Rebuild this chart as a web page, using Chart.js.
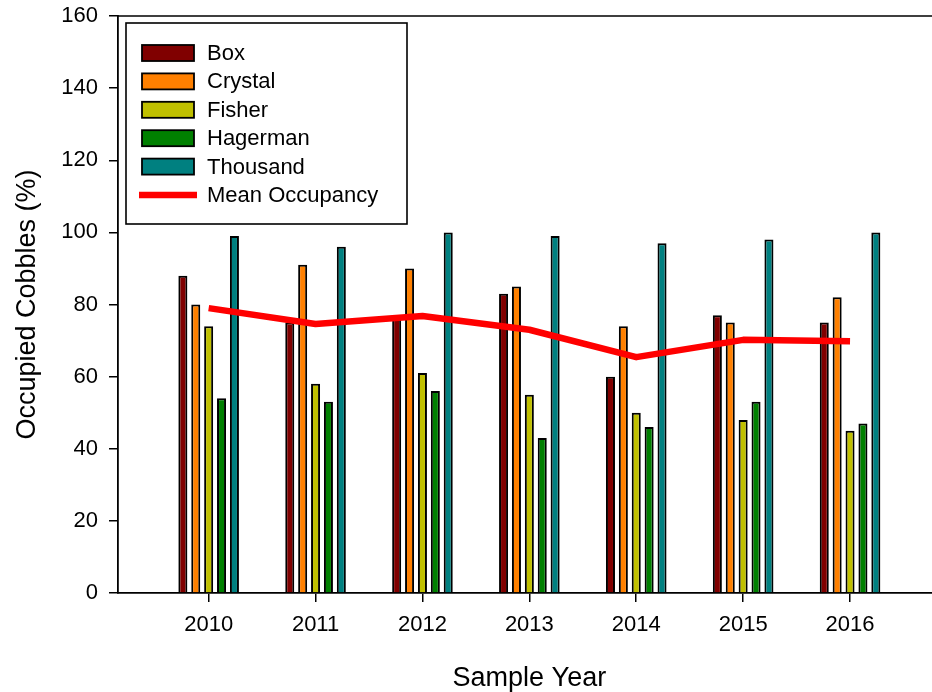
<!DOCTYPE html>
<html>
<head>
<meta charset="utf-8">
<script src="https://cdn.jsdelivr.net/npm/chart.js@4/dist/chart.umd.min.js"></script>
<style>
  html, body { margin: 0; padding: 0; background: #fff; overflow: hidden; }
  #wrap { width: 932px; height: 692px; overflow: hidden; }
  canvas { display: block; }
</style>
</head>
<body>
<div id="wrap"><canvas id="c" width="960" height="692"></canvas></div>
<script>
// Sample years and cobble occupancy (%) per site
const years = [2010, 2011, 2012, 2013, 2014, 2015, 2016];
const box      = [88, 75, 77, 83, 60, 77, 75];
const crystal  = [80, 91, 90, 85, 74, 75, 82];
const fisher   = [74, 58, 61, 55, 50, 48, 45];
const hagerman = [54, 53, 56, 43, 46, 53, 47];
const thousand = [99, 96, 100, 99, 97, 98, 100];
const meanOccupancy = [79, 74.6, 76.8, 73, 65.4, 70.2, 69.8];
const yTicks = [0, 20, 40, 60, 80, 100, 120, 140, 160];

const FONT = 'Liberation Sans, Arial, Helvetica, sans-serif';

const siteColors = ['#800000', '#FF8000', '#C0C000', '#008000', '#008080'];
const siteNames = ['Box', 'Crystal', 'Fisher', 'Hagerman', 'Thousand'];
const siteValues = [box, crystal, fisher, hagerman, thousand];

const barSets = siteNames.map((name, i) => ({
  type: 'bar',
  label: name,
  data: siteValues[i],
  backgroundColor: siteColors[i],
  borderColor: '#000',
  borderWidth: 2,
  categoryPercentage: 0.603,
  barPercentage: 0.70,
  order: 1
}));

const meanSet = {
  type: 'line',
  label: 'Mean Occupancy',
  data: meanOccupancy,
  borderColor: '#FF0000',
  backgroundColor: '#FF0000',
  borderWidth: 6.5,
  pointRadius: 0,
  tension: 0,
  borderCapStyle: 'butt',
  borderJoinStyle: 'round',
  order: 0
};

// Frame line along the top of the plot and the boxed legend inside it
const framePlugin = {
  id: 'frame',
  afterDraw(chart) {
    const ctx = chart.ctx;
    const a = chart.chartArea;
    ctx.save();
    ctx.strokeStyle = '#000';
    ctx.lineWidth = 1.6;
    ctx.beginPath();
    ctx.moveTo(a.left, a.top);
    ctx.lineTo(a.right, a.top);
    ctx.lineTo(a.right, a.bottom);
    ctx.stroke();

    // legend
    const lx = 126, ly = 23, lw = 281, lh = 201;
    ctx.fillStyle = '#fff';
    ctx.fillRect(lx, ly, lw, lh);
    ctx.lineWidth = 1.6;
    ctx.strokeRect(lx, ly, lw, lh);

    ctx.font = '22px ' + FONT;
    ctx.textBaseline = 'middle';
    ctx.textAlign = 'left';
    const rowY0 = 53, rowStep = 28.4;
    chart.data.datasets.forEach((ds, i) => {
      const cy = rowY0 + i * rowStep;
      if (ds.type === 'bar') {
        ctx.fillStyle = ds.backgroundColor;
        ctx.fillRect(142, cy - 8, 52, 16);
        ctx.lineWidth = 1.8;
        ctx.strokeStyle = '#000';
        ctx.strokeRect(142, cy - 8, 52, 16);
      } else {
        ctx.strokeStyle = ds.borderColor;
        ctx.lineWidth = 6.5;
        ctx.beginPath();
        ctx.moveTo(139, cy);
        ctx.lineTo(197, cy);
        ctx.stroke();
      }
      ctx.fillStyle = '#000';
      ctx.fillText(ds.label, 207, cy + 1);
    });
    ctx.restore();
  }
};

new Chart(document.getElementById('c'), {
  data: {
    labels: years,
    datasets: [...barSets, meanSet]
  },
  options: {
    responsive: false,
    animation: false,
    devicePixelRatio: 1,
    layout: { padding: { left: 0, right: 19.3, top: 16, bottom: 0 } },
    plugins: {
      legend: { display: false },
      tooltip: { enabled: false }
    },
    scales: {
      x: {
        type: 'linear',
        min: 2009.152,
        max: 2016.848,
        offset: false,
        afterBuildTicks(scale) { scale.ticks = years.map(v => ({ value: v })); },
        afterFit(scale) { scale.height = 99; },
        grid: {
          display: true,
          offset: false,
          drawOnChartArea: false,
          drawTicks: true,
          tickLength: 9,
          color: '#000',
          lineWidth: 1.5
        },
        border: { display: true, color: '#000', width: 1.8 },
        ticks: {
          color: '#000',
          font: { family: FONT, size: 22 },
          padding: 10,
          maxRotation: 0,
          autoSkip: false,
          callback: v => String(v)
        },
        title: {
          display: true,
          text: 'Sample Year',
          color: '#000',
          font: { family: FONT, size: 27, lineHeight: 1 },
          padding: { top: 0, bottom: 0 }
        }
      },
      y: {
        type: 'linear',
        min: 0,
        max: 160,
        afterBuildTicks(scale) { scale.ticks = yTicks.map(v => ({ value: v })); },
        afterFit(scale) { scale.width = 118; },
        grid: {
          display: true,
          drawOnChartArea: false,
          drawTicks: true,
          tickLength: 9,
          color: '#000',
          lineWidth: 1.5
        },
        border: { display: true, color: '#000', width: 1.8 },
        ticks: {
          color: '#000',
          font: { family: FONT, size: 22, lineHeight: 0.4 },
          padding: 11
        },
        title: {
          display: true,
          text: 'Occupied Cobbles (%)',
          color: '#000',
          font: { family: FONT, size: 27, lineHeight: 1 },
          padding: { top: 14, bottom: 0 }
        }
      }
    }
  },
  plugins: [framePlugin]
});
</script>
</body>
</html>
